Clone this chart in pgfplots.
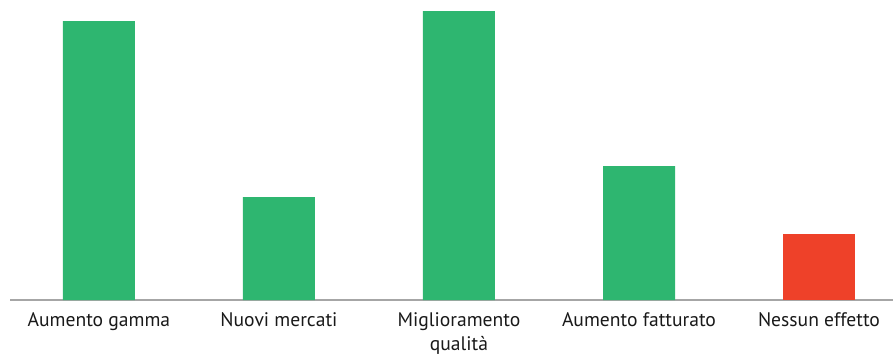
\documentclass[border=0pt]{standalone}
\usepackage{pgfplots}
\pgfplotsset{compat=1.18}
\usepackage{fontspec}
\setmainfont{PT Sans}
\definecolor{barg}{HTML}{2EB670}
\definecolor{barr}{HTML}{EE4129}
\definecolor{axg}{HTML}{A6A6A6}
\begin{document}
\begin{tikzpicture}
\begin{axis}[
  at={(0pt,0pt)}, anchor=south west,
  scale only axis,
  width=883pt, height=300pt,
  xmin=-0.494, xmax=4.411,
  ymin=0, ymax=300,
  ybar, bar shift=0pt, bar width=72pt,
  axis x line*=bottom, axis y line=none,
  x axis line style={axg, line width=1.5pt},
  xtick={0,1,2,3,4},
  xticklabels={Aumento gamma, Nuovi mercati, Miglioramento\\qualità, Aumento fatturato, Nessun effetto},
  xticklabel style={align=center, font=\fontsize{19.6}{24}\selectfont, text=black!90, anchor=north, yshift=-9pt},
  major tick length=0pt,
  ytick=\empty,
  clip=false,
]
\addplot[fill=barg, draw=none] coordinates {(0,279) (1,103) (2,289) (3,134)};
\addplot[fill=barr, draw=none] coordinates {(4,66)};
\end{axis}
\pgfresetboundingbox
\path[use as bounding box] (-10pt,-60pt) rectangle (883pt,300pt);
\end{tikzpicture}
\end{document}
